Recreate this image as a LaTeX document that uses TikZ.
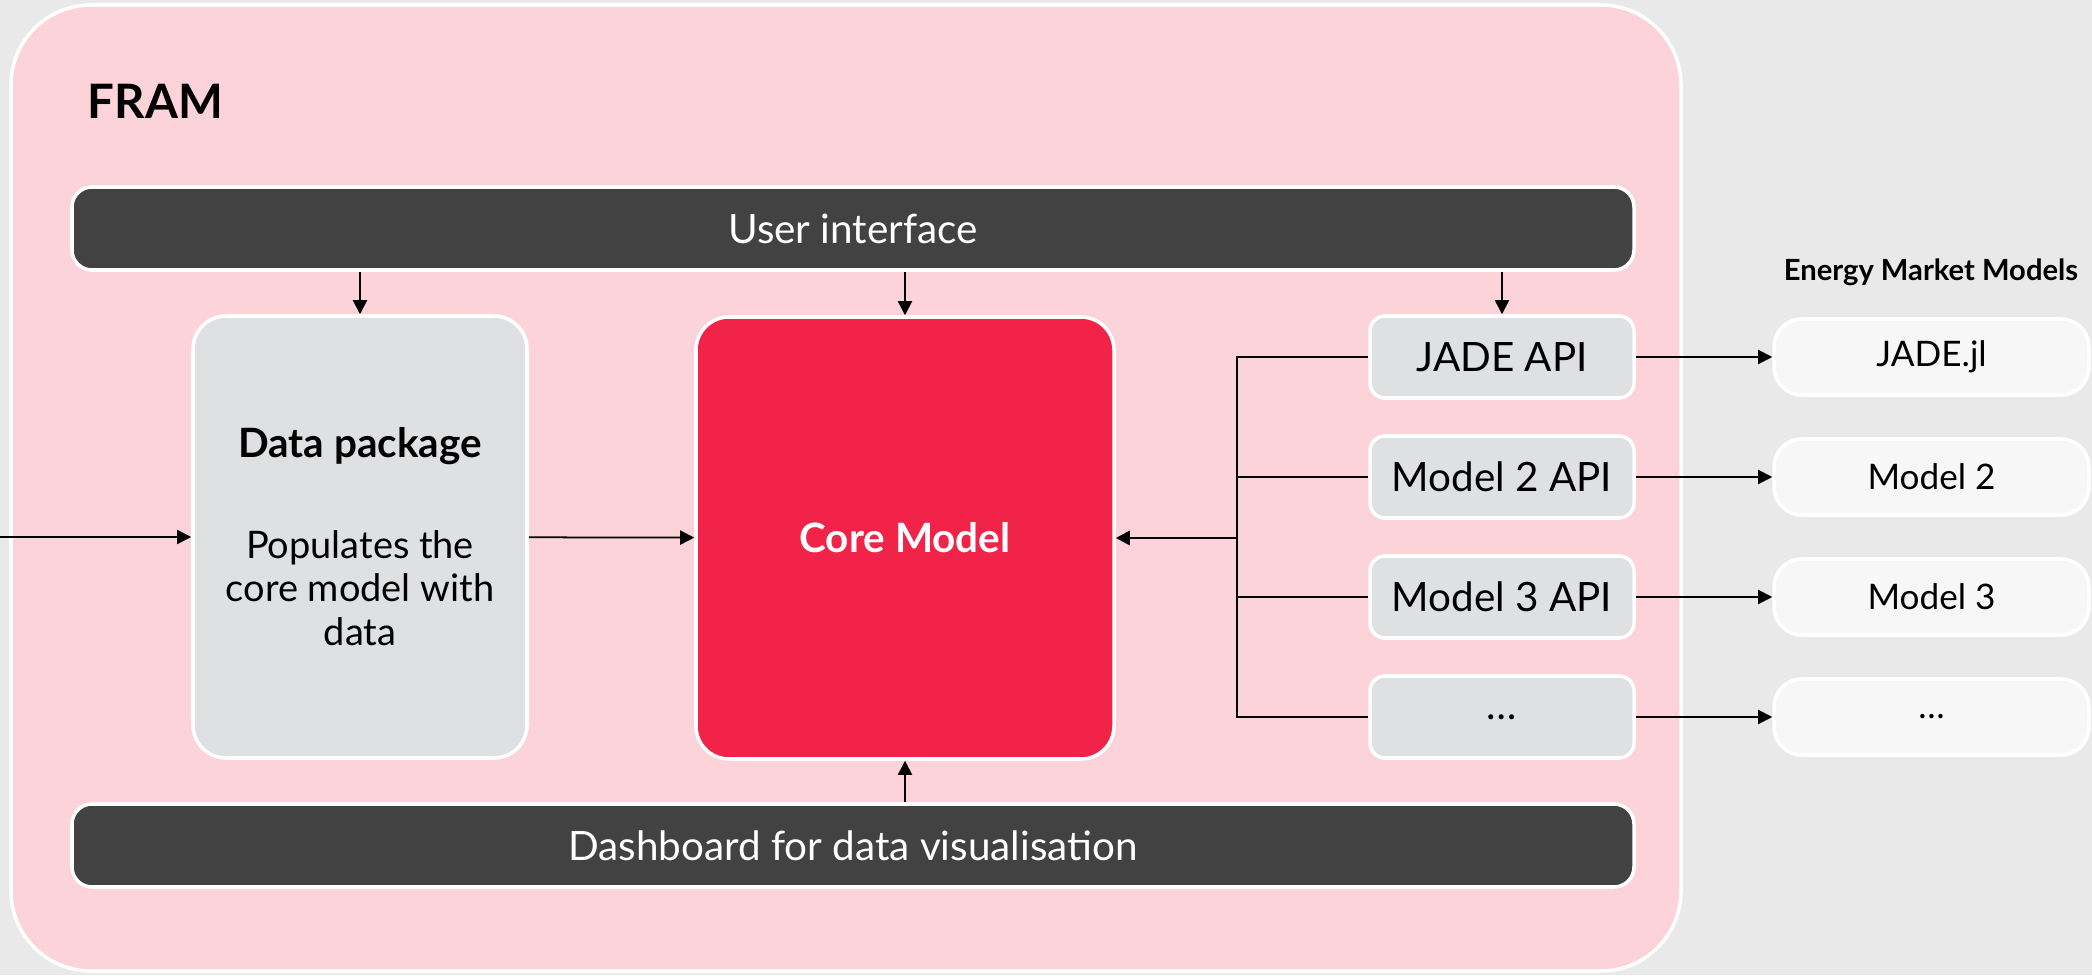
\documentclass[tikz,border=0pt]{standalone}
\usepackage{fontspec}
\setmainfont{Lato}
\usepackage{tikz}
\usetikzlibrary{arrows.meta}
\definecolor{photogrey}{HTML}{E9E9E9}
\definecolor{framepink}{HTML}{FCD3D9}
\definecolor{corered}{HTML}{F22348}
\definecolor{bardark}{HTML}{424242}
\definecolor{boxgrey}{HTML}{DFE0E2}
\definecolor{modelwhite}{HTML}{F7F7F7}

\begin{document}
\begin{tikzpicture}[
  bar/.style={draw=white,line width=1pt,fill=bardark,rounded corners=0.2cm,
    minimum width=15.62cm,minimum height=0.83cm,inner sep=0pt,text=white,
    font=\fontsize{11.5}{14}\selectfont},
  bigbox/.style={draw=white,line width=1pt,rounded corners=0.33cm,inner sep=0pt,
    minimum height=4.42cm,align=center},
  apibox/.style={draw=white,line width=1pt,fill=boxgrey,rounded corners=0.15cm,
    minimum width=2.64cm,minimum height=0.82cm,inner sep=0pt,font=\fontsize{11.5}{13}\selectfont},
  modelbox/.style={draw=white,line width=1pt,fill=modelwhite,rounded corners=0.28cm,
    minimum width=3.15cm,minimum height=0.76cm,inner sep=0pt,font=\fontsize{10}{12}\selectfont},
  arr/.style={-{Triangle[length=4pt,width=4pt]},line width=0.5pt}
]
% 1 cm = 100 px of the 2092 x 975 picture
\useasboundingbox (0,0) rectangle (20.92,9.75);
\fill[photogrey] (0,0) rectangle (20.92,9.75);
\draw[white,line width=1pt,fill=framepink,rounded corners=0.8cm] (0.11,0.04) rectangle (16.81,9.70);
\node[anchor=west,inner sep=0pt,font=\fontsize{13.5}{16}\selectfont\bfseries] (fram) at (0.87,8.74) {FRAM};

% bars
\node[bar] (ui) at (8.53,7.465) {User interface};
\node[bar] (dash) at (8.53,1.295) {Dashboard for data visualisation};

% main blocks
\node[bigbox,fill=boxgrey,minimum width=3.34cm,font=\fontsize{10.8}{12.5}\selectfont] (data) at (3.60,4.38)
  {\textbf{\fontsize{11.5}{12.5}\selectfont Data package}\\[16pt]Populates the\\core model with\\data};
\node[bigbox,fill=corered,minimum width=4.18cm,text=white,font=\fontsize{11.5}{13}\selectfont\bfseries] (core) at (9.05,4.37) {Core Model};

% api boxes and market models
\node[font=\fontsize{8.3}{10}\selectfont\bfseries] (emm) at (19.31,7.03) {Energy Market Models};
\foreach \i/\y/\a/\m in {1/6.18/JADE API/JADE.jl, 2/4.98/Model 2 API/Model 2, 3/3.78/Model 3 API/Model 3, 4/2.58/…/…} {
  \node[apibox] (api\i) at (15.02,\y) {\a};
  \node[modelbox] (mod\i) at (19.315,\y) {\m};
  \draw[arr] (api\i) -- (mod\i);
}

% connectors
\coordinate (in) at (0,4.38);
\coordinate (bus) at (12.37,4.37);
\draw[arr] (in) -- (data);
\draw[arr] (data) -- (core);
\draw[arr] (data.north |- ui.south) -- (data.north);
\draw[arr] (core.north |- ui.south) -- (core.north);
\draw[arr] (api1.north |- ui.south) -- (api1.north);
\draw[arr] (core.south |- dash.north) -- (core.south);
\draw[line width=0.6pt] (api1.west) -| (bus |- api4.west) -- (api4.west);
\foreach \i in {2,3} {\draw[line width=0.6pt] (bus |- api\i.west) -- (api\i.west);}
\draw[arr,line width=0.8pt] (bus) -- (core.east);
\end{tikzpicture}
\end{document}
